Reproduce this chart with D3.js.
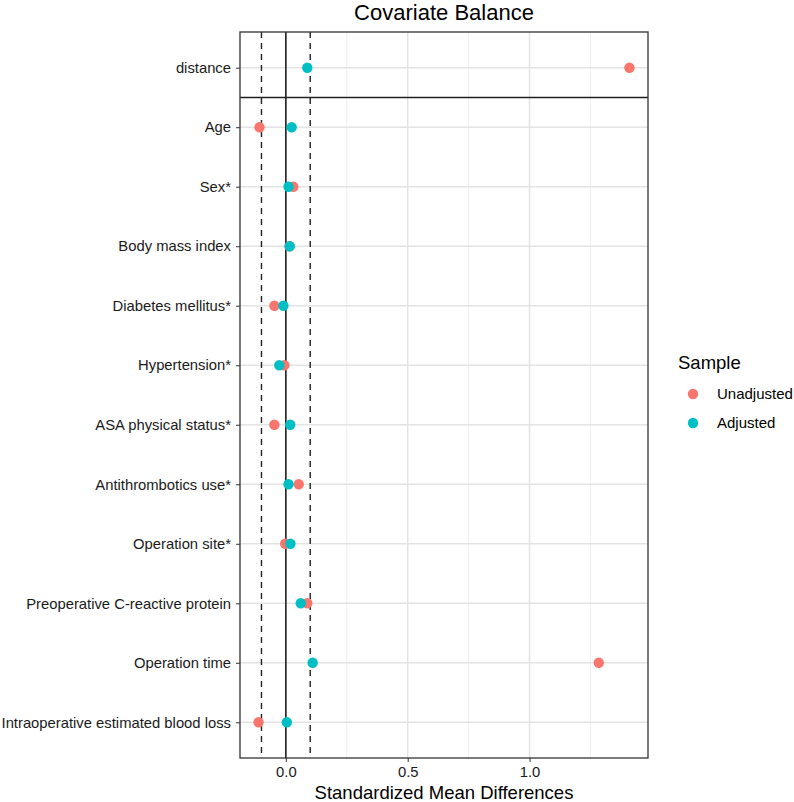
<!DOCTYPE html>
<html lang="en">
<head>
<meta charset="UTF-8">
<title>Covariate Balance</title>
<script src="https://d3js.org/d3.v7.min.js"></script>
<style>
    body { margin: 0; background: #fff; }
    text { font-family: "Liberation Sans", Arial, sans-serif; }
</style>
</head>
<body>
<svg id="chart" width="794" height="802"></svg>
<script>
    // covariates, top to bottom
    const covariates = [
        "distance", "Age", "Sex*", "Body mass index", "Diabetes mellitus*",
        "Hypertension*", "ASA physical status*", "Antithrombotics use*",
        "Operation site*", "Preoperative C-reactive protein", "Operation time",
        "Intraoperative estimated blood loss"
    ];
    const unadjusted = [1.41, -0.108, 0.031, 0.015, -0.047, -0.006, -0.047, 0.053, -0.003, 0.088, 1.284, -0.112];
    const adjusted   = [0.088, 0.024, 0.011, 0.016, -0.010, -0.027, 0.018, 0.011, 0.019, 0.061, 0.110, 0.004];
    const xTicks = [0, 0.5, 1.0];
    const xMinor = [0.25, 0.75, 1.25];
    const threshold = 0.1;
    const sampleNames = ["Unadjusted", "Adjusted"];
    const sampleColors = ["#F8766D", "#00BFC4"];

    const panel = {left: 240, right: 648, top: 32, bottom: 758};
    const svg = d3.select("#chart");

    // ggplot-like expansion (5% each side)
    const all = unadjusted.concat(adjusted);
    const lo = d3.min(all), hi = d3.max(all), pad = (hi - lo) * 0.05;
    const x = d3.scaleLinear().domain([lo - pad, hi + pad]).range([panel.left, panel.right]);
    const y = d3.scalePoint().domain(covariates).range([panel.top, panel.bottom]).padding(0.6);

    // grid
    const grid = svg.append("g");
    grid.selectAll(".minor").data(xMinor).join("line")
        .attr("x1", d => x(d)).attr("x2", d => x(d))
        .attr("y1", panel.top).attr("y2", panel.bottom)
        .attr("stroke", "#ebebeb").attr("stroke-width", 0.8);
    grid.selectAll(".major").data(xTicks).join("line")
        .attr("x1", d => x(d)).attr("x2", d => x(d))
        .attr("y1", panel.top).attr("y2", panel.bottom)
        .attr("stroke", "#e3e3e3").attr("stroke-width", 1.5);
    grid.selectAll(".hrow").data(covariates).join("line")
        .attr("x1", panel.left).attr("x2", panel.right)
        .attr("y1", d => y(d)).attr("y2", d => y(d))
        .attr("stroke", "#e3e3e3").attr("stroke-width", 1.5);

    // reference lines
    svg.append("line")
        .attr("x1", x(0)).attr("x2", x(0))
        .attr("y1", panel.top).attr("y2", panel.bottom)
        .attr("stroke", "#222").attr("stroke-width", 1.6);
    [-threshold, threshold].forEach(t => {
        svg.append("line")
            .attr("x1", x(t)).attr("x2", x(t))
            .attr("y1", panel.top).attr("y2", panel.bottom)
            .attr("stroke", "#222").attr("stroke-width", 1.4)
            .attr("stroke-dasharray", "6,5");
    });

    // separator between distance and covariates
    const sepY = (y(covariates[0]) + y(covariates[1])) / 2;
    svg.append("line")
        .attr("x1", panel.left).attr("x2", panel.right)
        .attr("y1", sepY).attr("y2", sepY)
        .attr("stroke", "#222").attr("stroke-width", 1.6);

    // points: unadjusted first, adjusted on top
    [unadjusted, adjusted].forEach((vals, i) => {
        svg.append("g").selectAll("circle").data(covariates).join("circle")
            .attr("cx", (d, j) => x(vals[j]))
            .attr("cy", d => y(d))
            .attr("r", 5.2)
            .attr("fill", sampleColors[i]);
    });

    // panel border
    svg.append("rect")
        .attr("x", panel.left).attr("y", panel.top)
        .attr("width", panel.right - panel.left).attr("height", panel.bottom - panel.top)
        .attr("fill", "none").attr("stroke", "#333").attr("stroke-width", 1.3);

    // axes
    const xAxis = svg.append("g")
        .attr("transform", `translate(0,${panel.bottom})`)
        .call(d3.axisBottom(x).tickValues(xTicks).tickFormat(d3.format(".1f")).tickSize(4).tickPadding(4));
    xAxis.select(".domain").remove();
    xAxis.selectAll("line").attr("stroke", "#333");
    xAxis.selectAll("text").attr("font-size", "14.8px").attr("fill", "#1a1a1a")
        .style("font-family", "'Liberation Sans', Arial, sans-serif");

    const yAxis = svg.append("g")
        .attr("transform", `translate(${panel.left},0)`)
        .call(d3.axisLeft(y).tickSize(4).tickPadding(5));
    yAxis.select(".domain").remove();
    yAxis.selectAll("line").attr("stroke", "#333");
    yAxis.selectAll("text").attr("font-size", "14.8px").attr("fill", "#1a1a1a")
        .style("font-family", "'Liberation Sans', Arial, sans-serif");

    // titles
    svg.append("text")
        .attr("x", (panel.left + panel.right) / 2).attr("y", 20)
        .attr("text-anchor", "middle").attr("font-size", "22px").attr("fill", "#000")
        .text("Covariate Balance");
    svg.append("text")
        .attr("x", (panel.left + panel.right) / 2).attr("y", 799)
        .attr("text-anchor", "middle").attr("font-size", "18.5px").attr("fill", "#000")
        .text("Standardized Mean Differences");

    // legend
    const legend = svg.append("g").attr("transform", "translate(678,0)");
    legend.append("text").attr("x", 0).attr("y", 369)
        .attr("font-size", "18.5px").attr("fill", "#000").text("Sample");
    sampleNames.forEach((name, i) => {
        const cy = 394 + i * 29;
        legend.append("circle").attr("cx", 15).attr("cy", cy).attr("r", 5.2).attr("fill", sampleColors[i]);
        legend.append("text").attr("x", 39).attr("y", cy + 5)
            .attr("font-size", "15px").attr("fill", "#000").text(name);
    });
</script>
</body>
</html>
